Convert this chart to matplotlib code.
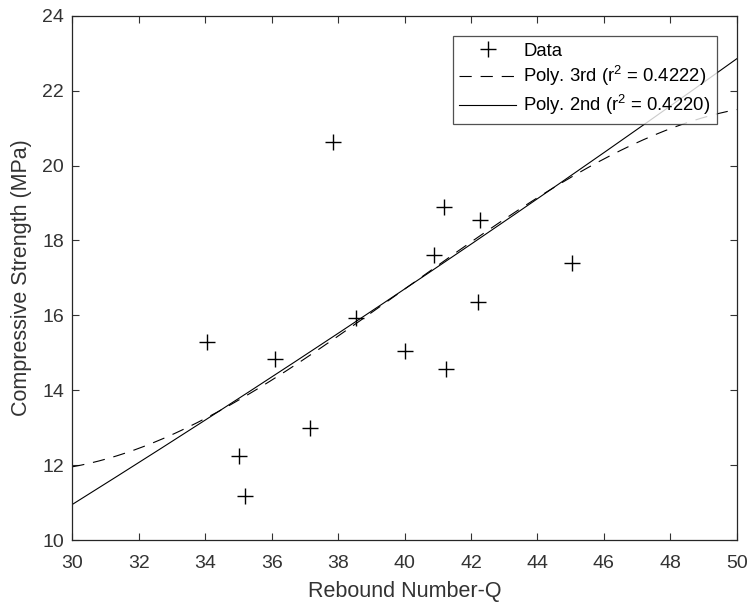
import numpy as np
import matplotlib
matplotlib.use("Agg")
from matplotlib import pyplot as plt

plt.rcParams['font.family'] = ['Liberation Sans', 'DejaVu Sans']
plt.rcParams['mathtext.fontset'] = 'custom'
plt.rcParams['mathtext.rm'] = 'Liberation Sans'

# data
rebound = [34.06, 37.84, 41.20, 42.27, 40.89, 45.03, 42.22, 38.53,
           40.01, 36.09, 41.25, 37.15, 35.02, 35.21]
strength = [15.28, 20.63, 18.88, 18.54, 17.60, 17.40, 16.35, 15.93,
            15.04, 14.83, 14.58, 12.98, 12.24, 11.18]
# fitted curves as drawn, coefficients in (x - 40), highest power first
poly3_coef = [-0.00157, 0.00025, 0.634, 16.7]
poly2_coef = [0.002, 0.595, 16.7]
x_ticks = [30, 32, 34, 36, 38, 40, 42, 44, 46, 48, 50]
y_ticks = [10, 12, 14, 16, 18, 20, 22, 24]

xx = np.linspace(30, 50, 300)

fig = plt.figure(figsize=(7.47, 6.05), dpi=100)
ax = fig.add_axes([0.0968, 0.1074, 0.8894, 0.8666])

ax.plot(rebound, strength, '+', color='k', markersize=11, markeredgewidth=1.0, label='Data')
ax.plot(xx, np.polyval(poly3_coef, xx - 40), color='k', lw=0.8, dashes=(11, 8),
        label=r'Poly. 3rd (r$^2$ = 0.4222)')
ax.plot(xx, np.polyval(poly2_coef, xx - 40), color='k', lw=0.8,
        label=r'Poly. 2nd (r$^2$ = 0.4220)')

ax.set_xlim(30, 50)
ax.set_ylim(10, 24)
ax.set_xticks(x_ticks)
ax.set_yticks(y_ticks)
ax.tick_params(direction='in', length=5, width=0.8, top=True, right=True,
               labelsize=14, colors='#333333')
ax.tick_params(axis='x', pad=11)
ax.tick_params(axis='y', pad=6)
for s in ax.spines.values():
    s.set_color('#262626')
    s.set_linewidth(0.9)
ax.set_xlabel('Rebound Number-Q', fontsize=15.5, color='#333333', labelpad=6)
ax.set_ylabel('Compressive Strength (MPa)', fontsize=15.5, color='#333333', labelpad=7)

leg = ax.legend(loc='upper right', bbox_to_anchor=(0.970, 0.961), fontsize=13.3,
                frameon=True, fancybox=False, edgecolor='#262626',
                handlelength=3.1, borderpad=0.35, labelspacing=0.25,
                handletextpad=0.36, borderaxespad=0)
leg.get_frame().set_linewidth(0.9)

fig.savefig('out.png', dpi=100)
